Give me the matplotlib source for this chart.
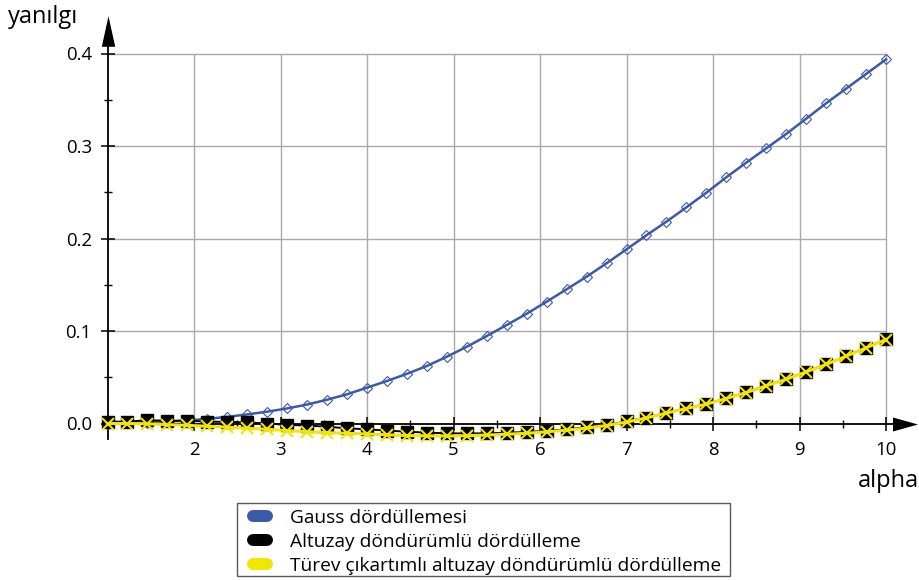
import numpy as np
import matplotlib
matplotlib.use("Agg")
import matplotlib.pyplot as plt
from matplotlib.lines import Line2D
from matplotlib.patches import Rectangle
from matplotlib.path import Path

plt.rcParams['font.family'] = ['Open Sans', 'DejaVu Sans']

# sample positions: 40 evenly spaced alpha values on [1, 10]
alpha = np.linspace(1, 10, 40)

gauss = [0.0000, 0.0004, 0.0010, 0.0020, 0.0033, 0.0050, 0.0072, 0.0098,
         0.0128, 0.0163, 0.0205, 0.0257, 0.0316, 0.0387, 0.0460, 0.0537,
         0.0622, 0.0722, 0.0830, 0.0946, 0.1065, 0.1187, 0.1317, 0.1451,
         0.1587, 0.1732, 0.1883, 0.2035, 0.2182, 0.2337, 0.2495, 0.2662,
         0.2820, 0.2975, 0.3130, 0.3295, 0.3462, 0.3620, 0.3778, 0.3937]

altuzay = [0.0020, 0.0020, 0.0035, 0.0030, 0.0030, 0.0020, 0.0018, 0.0012,
           0.0000, -0.0015, -0.0022, -0.0035, -0.0052, -0.0063, -0.0077, -0.0088,
           -0.0099, -0.0106, -0.0108, -0.0106, -0.0100, -0.0092, -0.0080, -0.0063,
           -0.0040, -0.0018, 0.0022, 0.0063, 0.0115, 0.0164, 0.0211, 0.0272,
           0.0337, 0.0409, 0.0481, 0.0560, 0.0640, 0.0730, 0.0820, 0.0910]

turev = [0.0000, 0.0000, -0.0003, -0.0012, -0.0020, -0.0030, -0.0040, -0.0052,
         -0.0063, -0.0077, -0.0088, -0.0099, -0.0106, -0.0113, -0.0122, -0.0130,
         -0.0134, -0.0135, -0.0132, -0.0125, -0.0116, -0.0106, -0.0090, -0.0072,
         -0.0050, -0.0022, 0.0015, 0.0060, 0.0113, 0.0162, 0.0209, 0.0270,
         0.0335, 0.0407, 0.0479, 0.0558, 0.0638, 0.0728, 0.0818, 0.0908]

x_ticks = [2, 3, 4, 5, 6, 7, 8, 9, 10]
x_minor = [1.5, 2.5, 3.5, 4.5, 5.5, 6.5, 7.5, 8.5, 9.5]
y_ticks = [0.0, 0.1, 0.2, 0.3, 0.4]
y_minor = [0.05, 0.15, 0.25, 0.35]

series_names = ["Gauss dördüllemesi",
                "Altuzay döndürümlü dördülleme",
                "Türev çıkartımlı altuzay döndürümlü dördülleme"]

BLUE = "#3b59a8"
BLACK = "#000000"
YELLOW = "#f2e600"
GRID = "#a9a9a9"
series_colors = [BLUE, BLACK, YELLOW]

W, H = 920, 580
fig = plt.figure(figsize=(W / 100, H / 100), dpi=100)
ax = fig.add_axes([0, 0, 1, 1])

# data-to-pixel layout: x=1 at 107.5 px, 86.5 px per unit; y=0 at 423.5 px from top, 925 px per unit
x0_px, xu = 107.5, 86.5
y0_px, yu = 423.5, 925.0
ax.set_xlim(1 - x0_px / xu, 1 + (W - x0_px) / xu)
ax.set_ylim(-(H - y0_px) / yu, y0_px / yu)

# grid
ax.vlines(x_ticks, 0, max(y_ticks), color=GRID, lw=1.0, zorder=1)
ax.hlines(y_ticks[1:], 1, max(x_ticks), color=GRID, lw=1.0, zorder=1)

# series
ax.plot(alpha, gauss, color=BLUE, lw=1.8, marker='D', ms=5.6, mfc='none',
        mec=BLUE, mew=0.8, zorder=3)
ax.plot(alpha, altuzay, color=BLACK, lw=1.4, marker='s', ms=8, mfc=BLACK,
        mec=BLACK, zorder=4)
ax.plot(alpha, turev, color=YELLOW, lw=2.2, marker='x', ms=8.5, mec=YELLOW,
        mew=1.5, zorder=5)

# axes lines through the origin
for s in ('top', 'right'):
    ax.spines[s].set_visible(False)
ax.spines['left'].set_position(('data', 1.0))
ax.spines['bottom'].set_position(('data', 0.0))
ax.spines['left'].set_bounds(-0.0165, 0.41)
ax.spines['bottom'].set_bounds(1.0, 10.1)
for s in ('left', 'bottom'):
    ax.spines[s].set_linewidth(1.3)
    ax.spines[s].set_zorder(2)

ax.set_xticks(x_ticks)
ax.set_xticklabels([str(v) for v in x_ticks])
ax.set_xticks(x_minor, minor=True)
ax.set_yticks(y_ticks)
ax.set_yticklabels([f"{v:.1f}" for v in y_ticks])
ax.set_yticks(y_minor, minor=True)
ax.tick_params(which='major', direction='inout', length=10, width=1.1,
               labelsize=13.4)
ax.tick_params(axis='x', which='major', pad=7.5)
ax.tick_params(axis='y', which='major', pad=6.3)
ax.tick_params(which='minor', direction='inout', length=6, width=1.0)

# arrow heads
up = Path([(-0.22, -0.5), (0.22, -0.5), (0.0, 0.5), (-0.22, -0.5)],
          [Path.MOVETO, Path.LINETO, Path.LINETO, Path.CLOSEPOLY])
right = Path([(-0.5, -0.28), (0.5, 0.0), (-0.5, 0.28), (-0.5, -0.28)],
             [Path.MOVETO, Path.LINETO, Path.LINETO, Path.CLOSEPOLY])
ax.plot([1.0], [0.424], marker=up, ms=22, color=BLACK, mew=0, clip_on=False)
ax.plot([10.225], [0.0], marker=right, ms=18, color=BLACK, mew=0, clip_on=False)


def fx(px):
    return px / W


def fy(py):
    return 1 - py / H


# axis titles
fig.text(fx(8), fy(22.7), "yanılgı", fontsize=17, ha='left', va='baseline')
fig.text(fx(919), fy(486.7), "alpha", fontsize=17, ha='right', va='baseline')

# legend box
fig.add_artist(Rectangle((fx(237.5), fy(576)), (730 - 237.5) / W, (576 - 503) / H,
                         transform=fig.transFigure, facecolor='white',
                         edgecolor='#5a5a5a', lw=1.0, zorder=6))
pill_y = [515.7, 540.0, 564.0]
text_y = [523.3, 547.3, 570.7]
for name, col, py, ty in zip(series_names, series_colors, pill_y, text_y):
    fig.add_artist(Line2D([fx(253), fx(267)], [fy(py), fy(py)],
                          transform=fig.transFigure, color=col, lw=8.6,
                          solid_capstyle='round', zorder=7))
    fig.text(fx(290), fy(ty), name, fontsize=13.8, ha='left', va='baseline',
             zorder=7)

fig.savefig("out.png", dpi=100)
